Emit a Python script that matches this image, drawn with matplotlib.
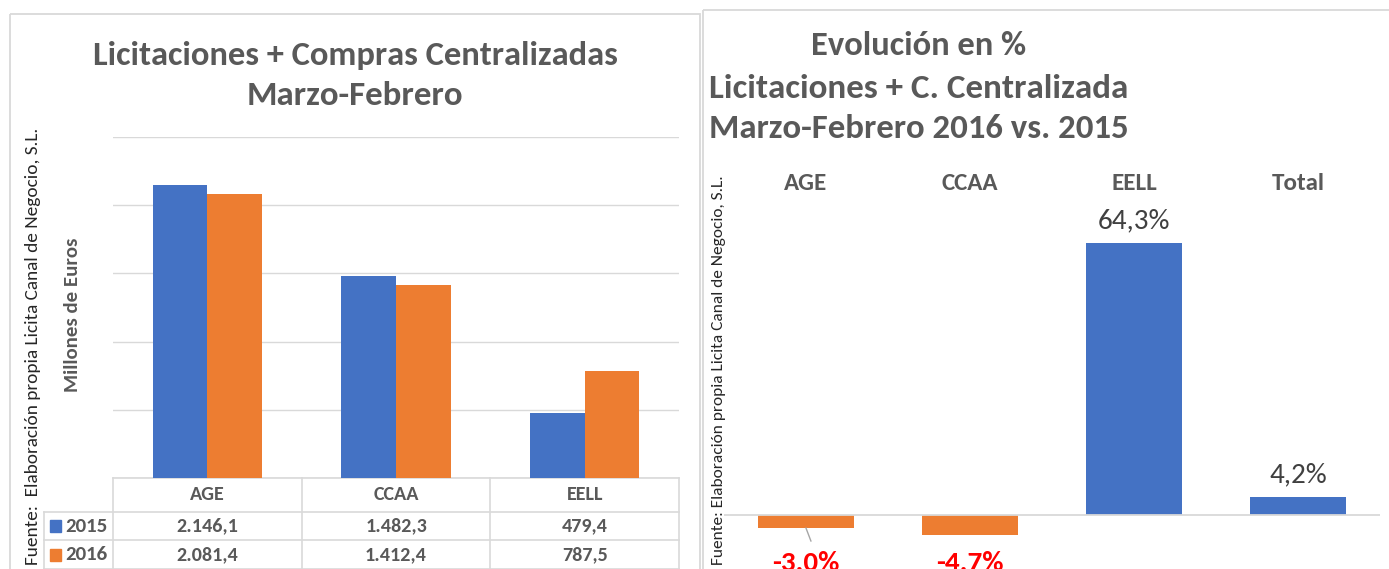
import matplotlib
matplotlib.use("Agg")
import matplotlib.pyplot as plt
import matplotlib.transforms as mtransforms
from matplotlib import font_manager
from matplotlib.patches import Rectangle

# datos
categorias = ["AGE", "CCAA", "EELL"]
serie_2015 = [2146.1, 1482.3, 479.4]
serie_2016 = [2081.4, 1412.4, 787.5]
etiquetas_2015 = ["2.146,1", "1.482,3", "479,4"]
etiquetas_2016 = ["2.081,4", "1.412,4", "787,5"]

cat_evol = ["AGE", "CCAA", "EELL", "Total"]
evolucion = [-3.0, -4.7, 64.3, 4.2]
etiquetas_evol = ["-3.0%", "-4.7%", "64,3%", "4,2%"]

AZUL = "#4472C4"
NARANJA = "#ED7D31"
GRIS = "#595959"
GRIS_OSC = "#404040"
LINEA = "#D9D9D9"

nombres = {f.name for f in font_manager.fontManager.ttflist}
FUENTE = "Liberation Sans"
for cand in ["Carlito", "Liberation Sans Narrow", "Open Sans Condensed", "Roboto Condensed"]:
    if cand in nombres:
        FUENTE = cand
        break
plt.rcParams["font.family"] = [FUENTE, "DejaVu Sans"]

W, H = 1389, 569
fig = plt.figure(figsize=(W / 100, H / 100), dpi=100)


def rect_px(x0, y0, x1, y1):
    return [x0 / W, 1 - y1 / H, (x1 - x0) / W, (y1 - y0) / H]


# capa de fondo en pixeles
ov = fig.add_axes([0, 0, 1, 1], zorder=0)
ov.set_xlim(0, W)
ov.set_ylim(H, 0)
ov.axis("off")

ov.add_patch(Rectangle((10, 14), 690, 600, fill=False, ec=LINEA, lw=1.3))
ov.add_patch(Rectangle((703, 10), 700, 600, fill=False, ec=LINEA, lw=1.3))

# ---------- grafico izquierdo ----------
ax = fig.add_axes(rect_px(113, 137, 679, 478), zorder=2)
ax.patch.set_alpha(0)
x = list(range(len(categorias)))
ancho = 0.29
ax.bar([i - ancho / 2 for i in x], serie_2015, ancho, color=AZUL, zorder=3)
ax.bar([i + ancho / 2 for i in x], serie_2016, ancho, color=NARANJA, zorder=3)
ax.set_xlim(-0.5, len(categorias) - 0.5)
ax.set_ylim(0, 2500)
ax.set_yticks([0, 500, 1000, 1500, 2000, 2500])
ax.yaxis.grid(True, color=LINEA, lw=1)
ax.set_axisbelow(True)
ax.tick_params(left=False, bottom=False, labelleft=False, labelbottom=False)
for s in ax.spines.values():
    s.set_visible(False)

# tabla de datos
tr = mtransforms.blended_transform_factory(ax.transData, ov.transData)
for yy in [478, 512, 540, 569]:
    ov.plot([113 if yy == 478 else 44, 679], [yy, yy], color=LINEA, lw=1.2)
for xx in [113, 302, 490, 679]:
    ov.plot([xx, xx], [478, 569], color=LINEA, lw=1.2)
ov.plot([44, 44], [512, 569], color=LINEA, lw=1.2)

for i, c in enumerate(categorias):
    ov.text(i, 494, c, transform=tr, ha="center", va="center", fontsize=14.5,
            fontweight="bold", color=GRIS)
    ov.text(i, 526, etiquetas_2015[i], transform=tr, ha="center", va="center",
            fontsize=14.5, fontweight="bold", color=GRIS)
    ov.text(i, 555, etiquetas_2016[i], transform=tr, ha="center", va="center",
            fontsize=14.5, fontweight="bold", color=GRIS)

for yy, lab, col in [(526, "2015", AZUL), (555, "2016", NARANJA)]:
    ov.add_patch(Rectangle((50, yy - 6), 11, 12, color=col))
    ov.text(65, yy, lab, ha="left", va="center", fontsize=15, fontweight="bold", color=GRIS)

ov.text(73, 315, "Millones de Euros", rotation=90, ha="center", va="center",
        fontsize=15, fontweight="bold", color=GRIS)
f1 = ov.text(33, 565, "Fuente:  Elaboración propia Licita Canal de Negocio, S.L.", rotation=90,
             ha="center", va="bottom", fontsize=12, color="#262626")

t1 = ov.text(355, 55, "Licitaciones + Compras Centralizadas", ha="center", va="center",
             fontsize=22, fontweight="bold", color=GRIS)
t2 = ov.text(355, 95, "Marzo-Febrero", ha="center", va="center",
             fontsize=22, fontweight="bold", color=GRIS)

# ---------- grafico derecho ----------
ax2 = fig.add_axes(rect_px(724, 200, 1380, 569), zorder=2)
ax2.patch.set_alpha(0)
escala = 4.23  # px por punto porcentual
ax2.set_ylim(-(569 - 515) / escala, (515 - 200) / escala)
ax2.set_xlim(-0.5, len(cat_evol) - 0.5)
xe = list(range(len(cat_evol)))
colores = [NARANJA if v < 0 else AZUL for v in evolucion]
ax2.bar(xe, evolucion, 0.58, color=colores, zorder=2)
ax2.axhline(0, color=LINEA, lw=1.3, zorder=3)
ax2.set_xticks(xe)
ax2.set_xticklabels(cat_evol, fontsize=18, fontweight="bold", color=GRIS)
ax2.xaxis.set_ticks_position("top")
ax2.tick_params(axis="x", length=0, pad=4)
ax2.tick_params(axis="y", left=False, labelleft=False)
for s in ax2.spines.values():
    s.set_visible(False)

for i, v in enumerate(evolucion):
    if v >= 0:
        ax2.annotate(etiquetas_evol[i], (i, v), xytext=(0, 7), textcoords="offset points",
                     ha="center", va="bottom", fontsize=21, color=GRIS_OSC)
    else:
        ax2.text(i, -(571 - 515) / escala, etiquetas_evol[i], ha="center", va="baseline",
                 fontsize=21, fontweight="bold", color="#FF0000", clip_on=False)
# linea guia de la etiqueta AGE
ax2.plot([0.0, 0.03], [evolucion[0] - 0.1, -(541 - 515) / escala], color="#A6A6A6", lw=1, zorder=4)

f2 = ov.text(719, 565, "Fuente: Elaboración propia Licita Canal de Negocio, S.L.", rotation=90,
             ha="center", va="bottom", fontsize=11, color="#262626")

t3 = ov.text(919, 45, "Evolución en %", ha="center", va="center",
             fontsize=22, fontweight="bold", color=GRIS)
t4 = ov.text(919, 88, "Licitaciones + C. Centralizada", ha="center", va="center",
             fontsize=22, fontweight="bold", color=GRIS)
t5 = ov.text(919, 128, "Marzo-Febrero 2016 vs. 2015", ha="center", va="center",
             fontsize=22, fontweight="bold", color=GRIS)

# ajustar tamaños de texto al ancho del original
rend = fig.canvas.get_renderer()
for t, objetivo, vertical in [(t1, 524, False), (t2, 216, False), (t3, 215, False),
                              (t4, 418, False), (t5, 418, False),
                              (f1, 437, True), (f2, 390, True)]:
    bb = t.get_window_extent(rend)
    actual = bb.height if vertical else bb.width
    t.set_fontsize(t.get_fontsize() * objetivo / actual)

fig.savefig("out.png", dpi=100)
